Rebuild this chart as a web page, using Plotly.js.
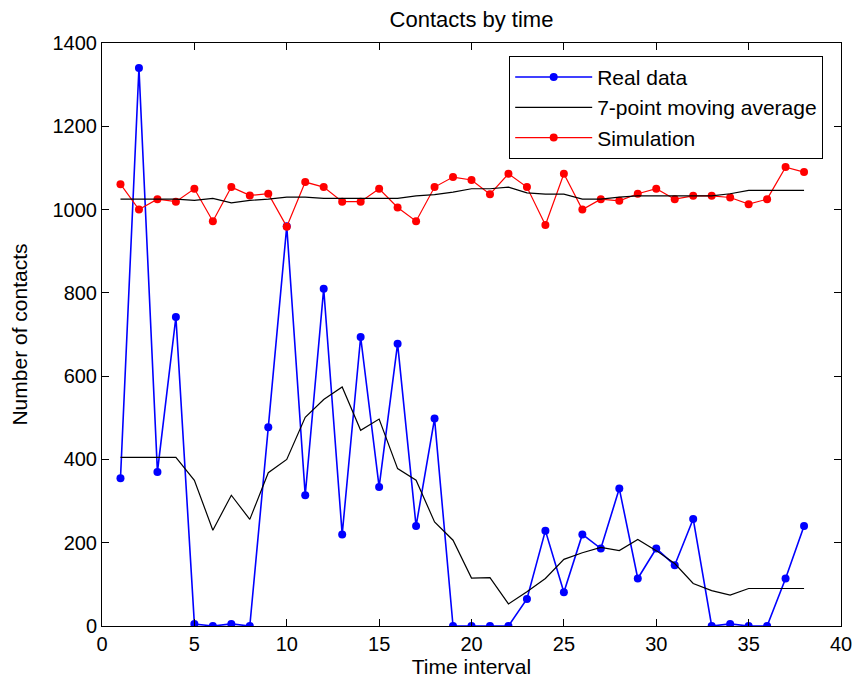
<!DOCTYPE html>
<html>
<head>
<meta charset="utf-8">
<script src="https://cdn.plot.ly/plotly-3.0.1.min.js"></script>
<style>html,body{margin:0;padding:0;background:#fff;}#chart{width:856px;height:689px;}</style>
</head>
<body>
<div id="chart"></div>
<script>
const timeInterval = [1,2,3,4,5,6,7,8,9,10,11,12,13,14,15,16,17,18,19,20,21,22,23,24,25,26,27,28,29,30,31,32,33,34,35,36,37,38];
const realData = [355,1340,370,742,5,0,5,0,477,960,314,810,220,694,334,678,240,498,0,0,0,0,65,229,81,220,186,330,114,186,146,257,0,5,0,0,114,240];
const realAvg = [405,405,405,405,350,230,314,256,368,400,501,544,574,470,497,378,350,250,206,115,116,53,82,114,160,176,189,181,208,181,150,102,85,74,90,90,90,90];
const simulation = [1061,1000,1025,1019,1050,972,1054,1034,1038,959,1066,1054,1019,1019,1050,1005,972,1054,1078,1071,1037,1086,1054,963,1086,1000,1025,1021,1038,1050,1025,1033,1033,1029,1013,1025,1102,1090];
const simAvg = [1025,1025,1025,1025,1022,1027,1016,1022,1025,1030,1030,1027,1027,1027,1027,1027,1033,1036,1042,1050,1050,1054,1040,1037,1037,1025,1025,1030,1033,1033,1033,1033,1033,1038,1046,1046,1046,1046];

const fontFam = 'Liberation Sans, Arial, sans-serif';
const traces = [
  {x: timeInterval, y: realData, name: 'Real data', mode: 'lines+markers',
   line: {color: '#0000ff', width: 1.6}, marker: {color: '#0000ff', size: 8}},
  {x: timeInterval, y: realAvg, name: '7-point moving average', mode: 'lines',
   line: {color: '#000000', width: 1.2}},
  {x: timeInterval, y: simulation, name: 'Simulation', mode: 'lines+markers',
   line: {color: '#ff0000', width: 1.2}, marker: {color: '#ff0000', size: 8}},
  {x: timeInterval, y: simAvg, name: '7-point moving average (simulation)', mode: 'lines', showlegend: false,
   line: {color: '#000000', width: 1.2}}
];

const axisCommon = {
  showline: true, mirror: 'ticks', linecolor: '#000', linewidth: 1,
  ticks: 'inside', ticklen: 7, tickcolor: '#000', tickwidth: 1,
  showgrid: false, zeroline: false,
  tickfont: {family: fontFam, size: 20, color: '#000'}
};

const layout = {
  width: 856, height: 689,
  margin: {l: 102, r: 15, t: 43, b: 63},
  paper_bgcolor: '#fff', plot_bgcolor: '#fff',
  font: {family: fontFam, color: '#000'},
  title: {text: 'Contacts by time', font: {family: fontFam, size: 22, color: '#000'},
          x: 0.5, xref: 'paper', y: 1, yref: 'paper', yanchor: 'bottom', pad: {b: 16}},
  xaxis: Object.assign({}, axisCommon, {range: [0, 40], dtick: 5, tick0: 0,
          title: {text: 'Time interval', font: {family: fontFam, size: 21, color: '#000'}, standoff: 4}}),
  yaxis: Object.assign({}, axisCommon, {range: [0, 1400], dtick: 200, tick0: 0,
          title: {text: 'Number of contacts', font: {family: fontFam, size: 21, color: '#000'}, standoff: 19}}),
  showlegend: true,
  legend: {x: 0.551, y: 0.978, xanchor: 'left', yanchor: 'top',
           bordercolor: '#000', borderwidth: 1, bgcolor: '#fff',
           font: {family: fontFam, size: 21, color: '#000'},
           itemwidth: 77, entrywidth: 328, entrywidthmode: 'pixels'}
};

Plotly.newPlot('chart', traces, layout, {displayModeBar: false, staticPlot: true});
</script>
</body>
</html>
